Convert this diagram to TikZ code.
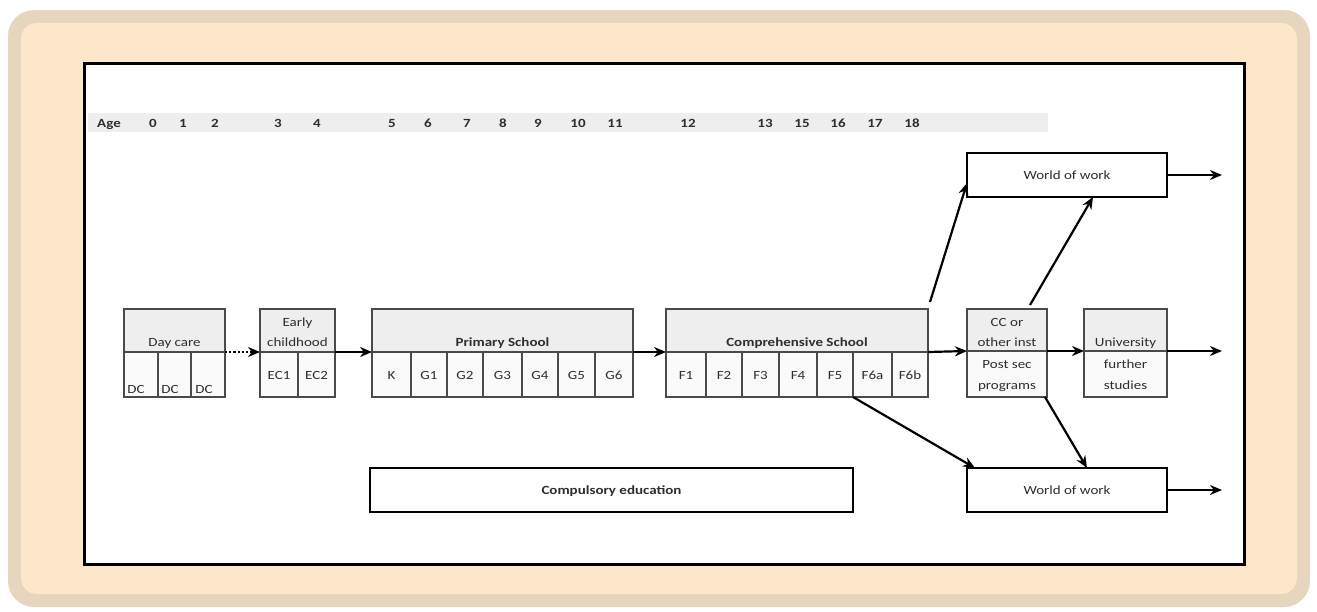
\documentclass[tikz,border=0pt]{standalone}
\usepackage{fontspec}
\setmainfont{Carlito}[FakeStretch=1.2]
\usetikzlibrary{arrows.meta,calc}
\definecolor{bgtan}{HTML}{E6D6BE}
\definecolor{bgcream}{HTML}{FEE6CA}
\definecolor{hdrgrey}{HTML}{EEEEEE}
\definecolor{cellgrey}{HTML}{FAFAFA}
\definecolor{boxline}{HTML}{4A4A4A}
\definecolor{txt}{HTML}{2E2E2E}
\begin{document}
\begin{tikzpicture}[x=1pt,y=-1pt,
  box/.style={draw=boxline, line width=1.8pt, inner sep=0pt, outer sep=0pt, anchor=north west},
  hdr/.style={box, fill=hdrgrey, minimum height=43pt},
  cell/.style={box, fill=cellgrey, minimum height=45pt},
  lbl/.style={font=\fontsize{12.5}{14}\selectfont, text=txt, inner sep=0pt, anchor=base},
  blbl/.style={font=\fontsize{12.5}{14}\selectfont\bfseries, text=txt, inner sep=0pt, anchor=base},
  arr/.style={line width=2.2pt, -{Stealth[length=12pt,width=10pt]}},
  dotarr/.style={arr, dotted},
  wow/.style={draw=black, line width=2.6pt, fill=white, inner sep=0pt, outer sep=0pt, anchor=north west, minimum width=200pt, minimum height=44pt}]
\useasboundingbox (0,0) rectangle (1317,611);
% background panels
\fill[bgtan, rounded corners=26pt] (8,10) rectangle (1310,607);
\fill[bgcream, rounded corners=16pt] (21,23) rectangle (1297,594);
\draw[line width=3pt, fill=white] (84,63) rectangle (1244,564);
% age bar
\fill[hdrgrey] (88,113) rectangle (1048,132);
\foreach \x/\t in {109/Age,153/0,183/1,215/2,278/3,317/4,392/5,428/6,467/7,503/8,538/9,578/10,615/11,688/12,765/13,802/15,838/16,875/17,912/18}
  \node[blbl] at (\x,127) {\t};
% Day care
\node[hdr, minimum width=101pt] (dch) at (124,309) {};
\node[lbl] at (174.5,346) {Day care};
\node[cell, minimum width=34pt] (dc1) at (124,352) {};
\node[cell, minimum width=33pt] (dc2) at (158,352) {};
\node[cell, minimum width=34pt] (dc3) at (191,352) {};
\node[lbl] at (136,393) {DC};
\node[lbl] at (170,393) {DC};
\node[lbl] at (204,393) {DC};
% Early childhood
\node[hdr, minimum width=75pt] (ech) at (260,309) {};
\node[lbl] at (297.5,326) {Early};
\node[lbl] at (297.5,346) {childhood};
\node[cell, minimum width=38pt] (ec1) at (260,352) {};
\node[cell, minimum width=37pt] (ec2) at (298,352) {};
\node[lbl] at (279,379) {EC1};
\node[lbl] at (316.5,379) {EC2};
% Primary school
\node[hdr, minimum width=261pt] (psh) at (372,309) {};
\node[blbl] at (502.5,346) {Primary School};
\foreach \a/\b/\t [count=\i] in {372/411/K,411/447/G1,447/483/G2,483/522/G3,522/558/G4,558/595/G5,595/633/G6}{
  \node[cell, minimum width=\b-\a] (ps\i) at (\a,352) {};
  \node[lbl] at ({(\a+\b)/2},379) {\t};
}
% Comprehensive school
\node[hdr, minimum width=262pt] (csh) at (666,309) {};
\node[blbl] at (797,346) {Comprehensive School};
\foreach \a/\b/\t [count=\i] in {666/706/F1,706/742/F2,742/779/F3,779/817/F4,817/853/F5,853/892/F6a,892/928/F6b}{
  \node[cell, minimum width=\b-\a] (cs\i) at (\a,352) {};
  \node[lbl] at ({(\a+\b)/2},379) {\t};
}
% CC or other inst
\node[hdr, minimum width=80pt, minimum height=42pt] (cch) at (967,309) {};
\node[cell, minimum width=80pt, minimum height=46pt] (ccl) at (967,351) {};
\node[lbl] at (1007,326) {CC or};
\node[lbl] at (1007,346) {other inst};
\node[lbl] at (1007,368) {Post sec};
\node[lbl] at (1007,389) {programs};
% University
\node[hdr, minimum width=83pt, minimum height=42pt] (unih) at (1084,309) {};
\node[cell, minimum width=83pt, minimum height=46pt] (unil) at (1084,351) {};
\node[lbl] at (1125.5,346) {University};
\node[lbl] at (1125.5,368) {further};
\node[lbl] at (1125.5,389) {studies};
% World of work boxes
\node[wow] (wow1) at (967,153) {};
\node[lbl] at (1067,179) {World of work};
\node[wow] (wow2) at (967,468) {};
\node[lbl] at (1067,494) {World of work};
% Compulsory education
\node[wow, minimum width=483pt] (comp) at (370,468) {};
\node[blbl] at (611.5,494) {Compulsory education};
% arrow ends
\coordinate (e1) at ($(wow1.east)+(55,0)$);
\coordinate (e2) at ($(unih.south east)+(55,0)$);
\coordinate (e3) at ($(wow2.east)+(55,0)$);
% connectors
\draw[dotarr] (dch.south east) -- (ech.south west);
\draw[arr] (ech.south east) -- (psh.south west);
\draw[arr] (psh.south east) -- (csh.south west);
\draw[arr] (csh.south east) -- (cch.south west);
\draw[arr] (cch.south east) -- (unih.south west);
\draw[arr] (unih.south east) -- (e2);
\draw[arr] (wow1.east) -- (e1);
\draw[arr] (wow2.east) -- (e3);
\draw[arr] ($(csh.north east)+(2,-7)$) -- ($(wow1.south west)+(0,-14)$);
\draw[arr] ($(cch.north east)+(-17,-4)$) -- ($(wow1.south)+(26,0)$);
\draw[arr] (cs6.south west) -- ($(wow2.north west)+(8,0)$);
\draw[arr] ($(ccl.south east)+(-2,0)$) -- ($(wow2.north)+(20,0)$);
\end{tikzpicture}
\end{document}
